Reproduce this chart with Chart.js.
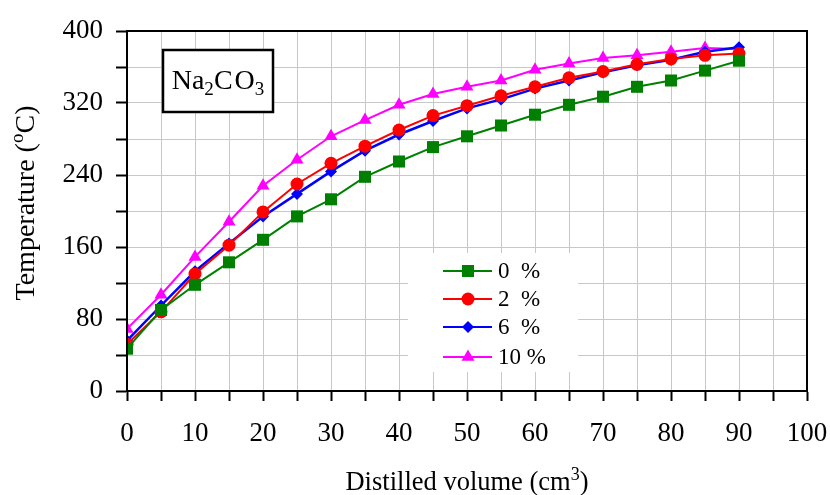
<!DOCTYPE html>
<html>
<head>
<meta charset="utf-8">
<script src="https://cdn.jsdelivr.net/npm/chart.js@4"></script>
<style>
  html, body { margin: 0; padding: 0; background: #fff; }
  #wrap { width: 830px; height: 495px; }
</style>
</head>
<body>
<div id="wrap"><canvas id="grafica" width="830" height="495"></canvas></div>
<script>
// volumen destilado (cm3)
const volumen = [0, 5, 10, 15, 20, 25, 30, 35, 40, 45, 50, 55, 60, 65, 70, 75, 80, 85, 90];

// temperatura (oC) para cada % de Na2CO3
const temp0 = [47, 90, 118, 143, 168, 194, 213, 238, 255, 271, 283, 295, 307, 318, 327, 338, 345, 356, 367];
const temp2 = [52, 88, 130, 162, 199, 230, 253, 272, 290, 306, 317, 328, 338, 348, 355, 363, 369, 373, 375];
const temp6 = [56, 95, 133, 164, 194, 219, 244, 267, 285, 300, 314, 324, 336, 345, 354, 362, 368, 377, 382];
const temp10 = [69, 107, 149, 188, 228, 257, 283, 301, 318, 330, 338, 345, 357, 364, 370, 373, 377, 381, 380];

const etiquetas = ["0  %", "2  %", "6  %", "10 %"];
const colores = ["#008000", "#ff0000", "#0000ff", "#ff00ff"];
const marcadores = ["rect", "circle", "rectRot", "triangle"];
const tamanos = [8.5, 6.5, 6, 7.5];

const FUENTE = "'Liberation Serif', 'Times New Roman', serif";

const series = [temp0, temp2, temp6, temp10];

const datasets = series.map((serie, i) => ({
    label: etiquetas[i],
    data: serie.map((t, j) => ({ x: volumen[j], y: t })),
    borderColor: colores[i],
    backgroundColor: colores[i],
    borderWidth: i === 2 ? 2.5 : 2,
    pointStyle: marcadores[i],
    pointRadius: tamanos[i],
    pointBorderWidth: 0,
    pointBackgroundColor: colores[i],
    tension: 0
}));

// texto con sub/superíndices: partes [texto, tipo, espacio extra]
function textoPartes(ctx, partes, x, y, size) {
    let cx = x;
    partes.forEach(([txt, tipo, extra]) => {
        const s = tipo ? size * 0.68 : size;
        ctx.font = s + "px " + FUENTE;
        const dy = tipo === "sup" ? -size * 0.38 : (tipo === "sub" ? size * 0.22 : 0);
        ctx.fillText(txt, cx, y + dy);
        cx += ctx.measureText(txt).width + (extra || 0);
    });
    return cx - x;
}

function anchoPartes(ctx, partes, size) {
    let w = 0;
    partes.forEach(([txt, tipo, extra]) => {
        const s = tipo ? size * 0.68 : size;
        ctx.font = s + "px " + FUENTE;
        w += ctx.measureText(txt).width + (extra || 0);
    });
    return w;
}

const extras = {
    id: "extras",
    beforeDatasetsDraw(chart) {
        const ctx = chart.ctx;
        ctx.save();
        // leyenda
        const lx = 408, ly = 253, lw = 170, lh = 119;
        ctx.fillStyle = "#fff";
        ctx.fillRect(lx, ly, lw, lh);
        const filas = [271, 299, 327, 357];
        datasets.forEach((d, i) => {
            ctx.strokeStyle = d.borderColor;
            ctx.lineWidth = 2;
            ctx.beginPath();
            ctx.moveTo(443, filas[i]);
            ctx.lineTo(492, filas[i]);
            ctx.stroke();
            ctx.fillStyle = d.backgroundColor;
            Chart.helpers.drawPoint(ctx, {
                pointStyle: d.pointStyle,
                radius: d.pointRadius,
                rotation: 0,
                borderWidth: 0
            }, 468, filas[i]);
            ctx.fillStyle = "#000";
            ctx.font = "23px " + FUENTE;
            ctx.textBaseline = "middle";
            ctx.textAlign = "left";
            ctx.fillText(d.label, 498, filas[i] + 1);
        });
        ctx.restore();
    },
    afterDraw(chart) {
        const ctx = chart.ctx;
        const a = chart.chartArea;
        ctx.save();
        // marco del área de trazado
        ctx.strokeStyle = "#000";
        ctx.lineWidth = 2;
        ctx.strokeRect(a.left, a.top, a.right - a.left, a.bottom - a.top);

        // recuadro Na2CO3
        ctx.fillStyle = "#fff";
        ctx.fillRect(163, 50, 110, 62);
        ctx.lineWidth = 2.5;
        ctx.strokeRect(163, 50, 110, 62);
        ctx.fillStyle = "#000";
        ctx.textBaseline = "alphabetic";
        ctx.textAlign = "left";
        const formula = [["Na", null], ["2", "sub"], ["C", null, 2], ["O", null], ["3", "sub"]];
        const wf = anchoPartes(ctx, formula, 28);
        textoPartes(ctx, formula, 218 - wf / 2, 89, 28);

        // título eje x
        const tx = [["Distilled volume (cm", null], ["3", "sup"], [")", null]];
        const wx = anchoPartes(ctx, tx, 26.5);
        textoPartes(ctx, tx, (a.left + a.right) / 2 - wx / 2, 490, 26.5);

        // título eje y
        const ty = [["Temperature (", null], ["o", "sup"], ["C)", null]];
        const wy = anchoPartes(ctx, ty, 28);
        ctx.translate(34, 203);
        ctx.rotate(-Math.PI / 2);
        textoPartes(ctx, ty, -wy / 2, 0, 28);
        ctx.restore();
    }
};

const ctx = document.getElementById("grafica").getContext("2d");
new Chart(ctx, {
    type: "line",
    data: { datasets: datasets },
    options: {
        responsive: false,
        animation: false,
        layout: { padding: { left: 0, top: 31, right: 23, bottom: 0 } },
        plugins: {
            legend: { display: false },
            tooltip: { enabled: false }
        },
        scales: {
            x: {
                type: "linear",
                min: 0,
                max: 100,
                afterFit: s => {
                    s.height = 104;
                    s.paddingLeft = 0;
                    s.paddingRight = 0;
                },
                ticks: {
                    stepSize: 5,
                    autoSkip: false,
                    maxRotation: 0,
                    padding: 17,
                    color: "#000",
                    font: { family: FUENTE, size: 27 },
                    callback: v => (v % 10 === 0 ? v : "")
                },
                grid: { color: "#c8c8c8", lineWidth: 1, tickColor: "#000", tickLength: 10, tickWidth: 2 },
                border: { color: "#000", width: 2 }
            },
            y: {
                min: 0,
                max: 400,
                afterFit: s => {
                    s.width = 127;
                    s.paddingTop = 0;
                    s.paddingBottom = 0;
                },
                ticks: {
                    stepSize: 40,
                    autoSkip: false,
                    padding: 13,
                    color: "#000",
                    font: { family: FUENTE, size: 27 },
                    callback: v => (v % 80 === 0 ? v : "")
                },
                grid: { color: "#c8c8c8", lineWidth: 1, tickColor: "#000", tickLength: 11, tickWidth: 2 },
                border: { color: "#000", width: 2 }
            }
        }
    },
    plugins: [extras]
});
</script>
</body>
</html>
